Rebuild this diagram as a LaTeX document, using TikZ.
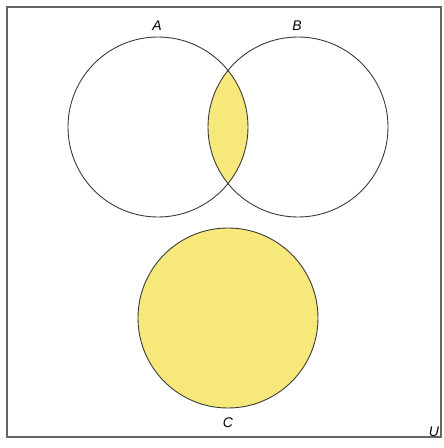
\documentclass[tikz,border=0pt]{standalone}
\usepackage{fontspec}
\setmainfont{Liberation Sans}
\definecolor{venny}{RGB}{246,232,122}
\definecolor{edge}{RGB}{60,60,60}
\begin{document}
\begin{tikzpicture}[x=1pt,y=-1pt,
  setline/.style={draw=edge,line width=0.9pt},
  lbl/.style={font=\itshape\fontsize{14}{14}\selectfont,inner sep=0pt}]
\useasboundingbox (0,0) rectangle (444,448);
\fill[white] (0,0) rectangle (444,448);
\node[draw=gray!80!black,line width=1.1pt,minimum width=434pt,minimum height=430pt,inner sep=0pt] (U) at (224,222) {};
% intersection fill
\begin{scope}
  \clip (158,127) circle (90);
  \fill[venny] (298,127) circle (90);
\end{scope}
\node[setline,circle,minimum size=180pt,inner sep=0pt] (A) at (158,127) {};
\node[setline,circle,minimum size=180pt,inner sep=0pt] (B) at (298,127) {};
\node[setline,fill=venny,circle,minimum size=180pt,inner sep=0pt] (C) at (228,318) {};
\node[lbl] (lA) at (157,26) {A};
\node[lbl] (lB) at (297,26) {B};
\node[lbl] (lC) at (228,423) {C};
\node[lbl] (lU) at (434,432) {U};
\end{tikzpicture}
\end{document}
